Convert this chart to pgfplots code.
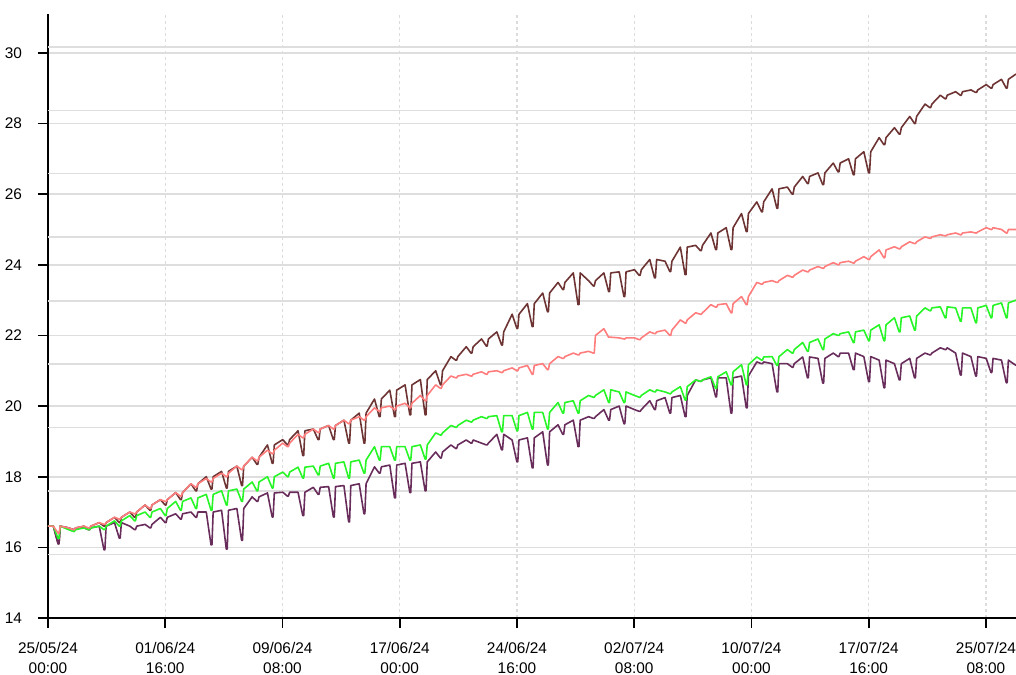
\documentclass[border=0pt]{standalone}
\usepackage{pgfplots}
\usepackage{pgfplotstable}
\pgfplotsset{compat=1.18}
\usepackage{fontspec}
\setmainfont{Liberation Sans}
\definecolor{cbrown}{RGB}{110,52,52}
\definecolor{csalmon}{RGB}{255,125,125}
\definecolor{cgreen}{RGB}{40,245,40}
\definecolor{cpurple}{RGB}{105,45,92}
\definecolor{gridc}{RGB}{222,222,222}
\definecolor{vgridc}{RGB}{220,220,220}

\pgfplotstableread{
t B S G P
0 16.6 16.6 16.6 16.6
0.35 16.6 16.6 16.6 16.6
0.66 16.1 16.4 16.25 16.1
0.72 16.1 16.4 16.25 16.1
0.8 16.6 16.6 16.6 16.6
1.35 16.55 16.55 16.5 16.55
1.66 16.5 16.5 16.45 16.5
1.72 16.5 16.5 16.45 16.5
1.8 16.55 16.55 16.5 16.55
2.35 16.6 16.6 16.55 16.55
2.66 16.5 16.55 16.5 16.5
2.72 16.5 16.55 16.5 16.5
2.8 16.6 16.6 16.55 16.55
3.35 16.7 16.7 16.6 16.6
3.66 16.6 16.65 16.5 15.93
3.72 16.6 16.65 16.5 15.93
3.8 16.7 16.7 16.6 16.6
4.35 16.85 16.85 16.75 16.7
4.66 16.7 16.8 16.6 16.26
4.72 16.7 16.8 16.6 16.26
4.8 16.85 16.85 16.75 16.7
5.35 17.0 17.0 16.9 16.6
5.66 16.85 16.95 16.75 16.5
5.72 16.85 16.95 16.75 16.5
5.8 17.0 17.0 16.9 16.6
6.35 17.2 17.2 17.0 16.65
6.66 17.05 17.1 16.85 16.55
6.72 17.05 17.1 16.85 16.55
6.8 17.2 17.2 17.0 16.65
7.35 17.35 17.35 17.1 16.85
7.66 17.2 17.3 16.9 16.7
7.72 17.2 17.3 16.9 16.7
7.8 17.35 17.35 17.1 16.85
8.35 17.55 17.55 17.3 16.95
8.66 17.35 17.45 17.05 16.8
8.72 17.35 17.45 17.05 16.8
8.8 17.55 17.55 17.3 16.95
9.35 17.8 17.8 17.4 17.0
9.66 17.6 17.7 17.1 16.85
9.72 17.6 17.7 17.1 16.85
9.8 17.8 17.8 17.4 17.0
10.35 18.0 17.95 17.5 17.0
10.66 17.65 17.85 17.05 16.07
10.72 17.65 17.85 17.05 16.07
10.8 18.0 17.95 17.5 17.0
11.35 18.15 18.1 17.6 17.05
11.66 17.68 18.0 17.2 15.95
11.72 17.68 18.0 17.2 15.95
11.8 18.15 18.1 17.6 17.05
12.35 18.3 18.3 17.65 17.1
12.66 17.75 18.2 17.3 16.2
12.72 17.75 18.2 17.3 16.2
12.8 18.3 18.3 17.65 17.1
13.35 18.55 18.55 17.85 17.43
13.66 18.35 18.45 17.6 17.3
13.72 18.35 18.45 17.6 17.3
13.8 18.55 18.55 17.85 17.43
14.35 18.9 18.75 18.0 17.54
14.66 18.38 18.65 17.68 16.86
14.72 18.38 18.65 17.68 16.86
14.8 18.9 18.75 18.0 17.54
15.35 19.05 18.95 18.13 17.56
15.66 18.9 18.85 18.0 17.45
15.72 18.9 18.85 18.0 17.45
15.8 19.05 18.95 18.13 17.56
16.35 19.3 19.2 18.27 17.56
16.66 18.6 19.1 17.96 16.9
16.72 18.6 19.1 17.96 16.9
16.8 19.3 19.2 18.27 17.56
17.35 19.35 19.35 18.3 17.7
17.66 19.05 19.25 18.05 17.5
17.72 19.05 19.25 18.05 17.5
17.8 19.35 19.35 18.3 17.7
18.35 19.45 19.45 18.38 17.72
18.66 19.05 19.35 17.96 16.86
18.72 19.05 19.35 17.96 16.86
18.8 19.45 19.45 18.38 17.72
19.35 19.6 19.6 18.42 17.75
19.66 18.95 19.5 17.96 16.72
19.72 18.95 19.5 17.96 16.72
19.8 19.6 19.6 18.42 17.75
20.35 19.8 19.7 18.47 17.8
20.66 18.95 19.6 18.1 16.95
20.72 18.95 19.6 18.1 16.95
20.8 19.8 19.7 18.47 17.8
21.35 20.2 19.95 18.85 18.28
21.66 19.7 19.85 18.47 18.1
21.72 19.7 19.85 18.47 18.1
21.8 20.2 19.95 18.85 18.28
22.35 20.45 20.0 18.85 18.33
22.66 19.7 19.9 18.47 17.4
22.72 19.7 19.9 18.47 17.4
22.8 20.45 20.0 18.85 18.33
23.35 20.6 20.08 18.85 18.38
23.66 19.75 19.95 18.47 17.55
23.72 19.75 19.95 18.47 17.55
23.8 20.6 20.08 18.85 18.38
24.35 20.75 20.3 18.9 18.42
24.66 19.75 20.15 18.5 17.6
24.72 19.75 20.15 18.5 17.6
24.8 20.75 20.3 18.9 18.42
25.35 21.0 20.6 19.24 18.7
25.66 20.6 20.5 19.18 18.53
25.72 20.6 20.5 19.18 18.53
25.8 21.0 20.6 19.24 18.7
26.35 21.4 20.85 19.45 18.9
26.66 21.3 20.8 19.4 18.8
26.72 21.3 20.8 19.4 18.8
26.8 21.4 20.85 19.45 18.9
27.35 21.68 20.9 19.6 19.04
27.66 21.5 20.85 19.55 18.95
27.72 21.5 20.85 19.55 18.95
27.8 21.68 20.9 19.6 19.04
28.35 21.9 20.97 19.7 18.95
28.66 21.7 20.9 19.65 18.9
28.72 21.7 20.9 19.65 18.9
28.8 21.9 20.97 19.7 18.95
29.35 22.1 21.0 19.73 19.2
29.66 21.73 20.95 19.27 18.76
29.72 21.73 20.95 19.27 18.76
29.8 22.1 21.0 19.73 19.2
30.35 22.6 21.08 19.73 19.04
30.66 22.2 21.0 19.3 18.42
30.72 22.2 21.0 19.3 18.42
30.8 22.6 21.08 19.73 19.04
31.35 22.9 21.15 19.82 19.1
31.66 22.25 20.9 19.35 18.25
31.72 22.25 20.9 19.35 18.25
31.8 22.9 21.15 19.82 19.1
32.35 23.2 21.2 19.82 19.27
32.66 22.67 21.03 19.35 18.33
32.72 22.67 21.03 19.35 18.33
32.8 23.2 21.2 19.82 19.27
33.35 23.5 21.4 20.1 19.47
33.66 23.3 21.35 19.8 19.2
33.72 23.3 21.35 19.8 19.2
33.8 23.5 21.4 20.1 19.47
34.35 23.77 21.5 20.15 19.6
34.66 22.87 21.45 19.8 18.85
34.72 22.87 21.45 19.8 18.85
34.8 23.77 21.5 20.15 19.6
35.35 23.55 21.55 20.3 19.7
35.66 23.4 21.5 20.25 19.65
35.72 23.4 21.5 20.25 19.65
35.8 23.55 22.0 20.3 19.7
36.35 23.77 22.19 20.46 19.9
36.66 23.24 21.95 20.1 19.6
36.72 23.24 21.95 20.1 19.6
36.8 23.77 21.95 20.46 19.9
37.35 23.8 21.93 20.4 20.0
37.66 23.1 21.9 20.1 19.5
37.72 23.1 21.9 20.1 19.5
37.8 23.8 21.93 20.4 20.0
38.35 23.86 21.93 20.3 19.9
38.66 23.7 21.88 20.25 19.85
38.72 23.7 21.88 20.25 19.85
38.8 23.86 21.93 20.3 19.9
39.35 24.15 22.1 20.46 20.15
39.66 23.63 22.05 20.4 19.9
39.72 23.63 22.05 20.4 19.9
39.8 24.15 22.1 20.46 20.15
40.35 24.1 22.15 20.4 20.24
40.66 23.81 22.0 20.35 19.8
40.72 23.81 22.0 20.35 19.8
40.8 24.1 22.15 20.4 20.24
41.35 24.5 22.44 20.55 20.3
41.66 23.72 22.35 20.17 19.7
41.72 23.72 22.35 20.17 19.7
41.8 24.5 22.44 20.55 20.3
42.35 24.55 22.64 20.74 20.74
42.66 24.4 22.6 20.7 20.7
42.72 24.4 22.6 20.7 20.7
42.8 24.55 22.64 20.74 20.74
43.35 24.9 22.87 20.83 20.8
43.66 24.43 22.8 20.5 20.26
43.72 24.43 22.8 20.5 20.26
43.8 24.9 22.87 20.83 20.8
44.35 25.05 22.9 20.97 20.8
44.66 24.43 22.64 20.6 19.8
44.72 24.43 22.64 20.6 19.8
44.8 25.05 22.9 20.97 20.8
45.35 25.45 23.1 21.17 20.85
45.66 24.94 22.87 20.6 19.95
45.72 24.94 22.87 20.6 19.95
45.8 25.45 23.1 21.17 20.85
46.35 25.78 23.5 21.39 21.25
46.66 25.5 23.45 21.3 21.2
46.72 25.5 23.45 21.3 21.2
46.8 25.78 23.5 21.39 21.25
47.35 26.15 23.55 21.4 21.2
47.66 25.6 23.5 21.15 20.4
47.72 25.6 23.5 21.15 20.4
47.8 26.15 23.55 21.4 21.2
48.35 26.2 23.7 21.6 21.2
48.66 26.0 23.65 21.5 21.1
48.72 26.0 23.65 21.5 21.1
48.8 26.2 23.7 21.6 21.2
49.35 26.5 23.85 21.8 21.39
49.66 26.3 23.8 21.55 20.8
49.72 26.3 23.8 21.55 20.8
49.8 26.5 23.85 21.8 21.39
50.35 26.6 23.95 21.9 21.35
50.66 26.27 23.9 21.6 20.65
50.72 26.27 23.9 21.6 20.65
50.8 26.6 23.95 21.9 21.35
51.35 26.88 24.06 22.05 21.5
51.66 26.63 24.0 22.0 21.4
51.72 26.63 24.0 22.0 21.4
51.8 26.88 24.06 22.05 21.5
52.35 27.0 24.1 22.1 21.5
52.66 26.55 24.05 21.8 21.03
52.72 26.55 24.05 21.8 21.03
52.8 27.0 24.1 22.1 21.5
53.35 27.2 24.23 22.15 21.4
53.66 26.6 24.15 21.85 20.69
53.72 26.6 24.15 21.85 20.69
53.8 27.2 24.23 22.15 21.4
54.35 27.6 24.42 22.3 21.3
54.66 27.4 24.2 21.85 20.52
54.72 27.4 24.2 21.85 20.52
54.8 27.6 24.42 22.3 21.3
55.35 27.88 24.51 22.5 21.2
55.66 27.7 24.45 22.1 20.74
55.72 27.7 24.45 22.1 20.74
55.8 27.88 24.51 22.5 21.2
56.35 28.2 24.65 22.55 21.35
56.66 28.0 24.6 22.15 20.8
56.72 28.0 24.6 22.15 20.8
56.8 28.2 24.65 22.55 21.35
57.35 28.55 24.79 22.78 21.5
57.66 28.45 24.75 22.7 21.45
57.72 28.45 24.75 22.7 21.45
57.8 28.55 24.79 22.78 21.5
58.35 28.8 24.85 22.81 21.65
58.66 28.7 24.82 22.5 21.6
58.72 28.7 24.82 22.5 21.6
58.8 28.8 24.85 22.81 21.65
59.35 28.9 24.9 22.78 21.5
59.66 28.8 24.85 22.4 20.88
59.72 28.8 24.85 22.4 20.88
59.8 28.9 24.9 22.78 21.5
60.35 28.95 24.93 22.78 21.4
60.66 28.88 24.9 22.36 20.85
60.72 28.88 24.9 22.36 20.85
60.8 28.95 24.93 22.78 21.4
61.35 29.1 25.05 22.85 21.35
61.66 29.0 25.0 22.5 20.95
61.72 29.0 25.0 22.5 20.95
61.8 29.1 25.05 22.85 21.35
62.35 29.25 25.0 22.92 21.3
62.66 29.0 24.9 22.5 20.66
62.72 29.0 24.9 22.5 20.66
62.8 29.25 25.0 22.92 21.3
63.3 29.4 25.0 23.0 21.15
}\data

\begin{document}
\begin{tikzpicture}
\useasboundingbox (-24pt,-28pt) rectangle (484pt,309pt);
\begin{axis}[
  scale only axis, width=484pt, height=302pt,
  xmin=0, xmax=63.3, ymin=14, ymax=31.1,
  axis lines*=left,
  axis line style={black, line width=0.8pt},
  tick align=outside,
  major tick length=5pt,
  tick style={black, line width=0.8pt},
  xtick={0,7.6667,15.3333,23,30.6667,38.3333,46,53.6667,61.3333},
  xticklabels={{25/05/24\\00:00},{01/06/24\\16:00},{09/06/24\\08:00},{17/06/24\\00:00},{24/06/24\\16:00},{02/07/24\\08:00},{10/07/24\\00:00},{17/07/24\\16:00},{25/07/24\\08:00}},
  xticklabel style={align=center, font=\fontsize{7.7}{10}\selectfont},
  xticklabel shift=3.5pt,
  ytick={14,16,18,20,22,24,26,28,30},
  yticklabel style={font=\fontsize{7.7}{10}\selectfont},
  yticklabel shift=4.5pt,
  /pgf/number format/assume math mode=true,
  xmajorgrids, ymajorgrids,
  x grid style={vgridc, line width=0.6pt, dash pattern=on 1.5pt off 1.5pt},
  y grid style={gridc, line width=0.8pt},
  extra y ticks={15.80,17.60,19.39,21.19,22.98,24.78,26.58,28.37,30.17},
  extra y tick labels={},
  extra y tick style={major tick length=0pt, ymajorgrids=true},
  every axis plot/.append style={line width=0.8pt, line join=round},
]
\addplot[cbrown] table[x=t,y=B] {\data};
\addplot[cpurple] table[x=t,y=P] {\data};
\addplot[cgreen] table[x=t,y=G] {\data};
\addplot[csalmon] table[x=t,y=S] {\data};
\end{axis}
\end{tikzpicture}
\end{document}
